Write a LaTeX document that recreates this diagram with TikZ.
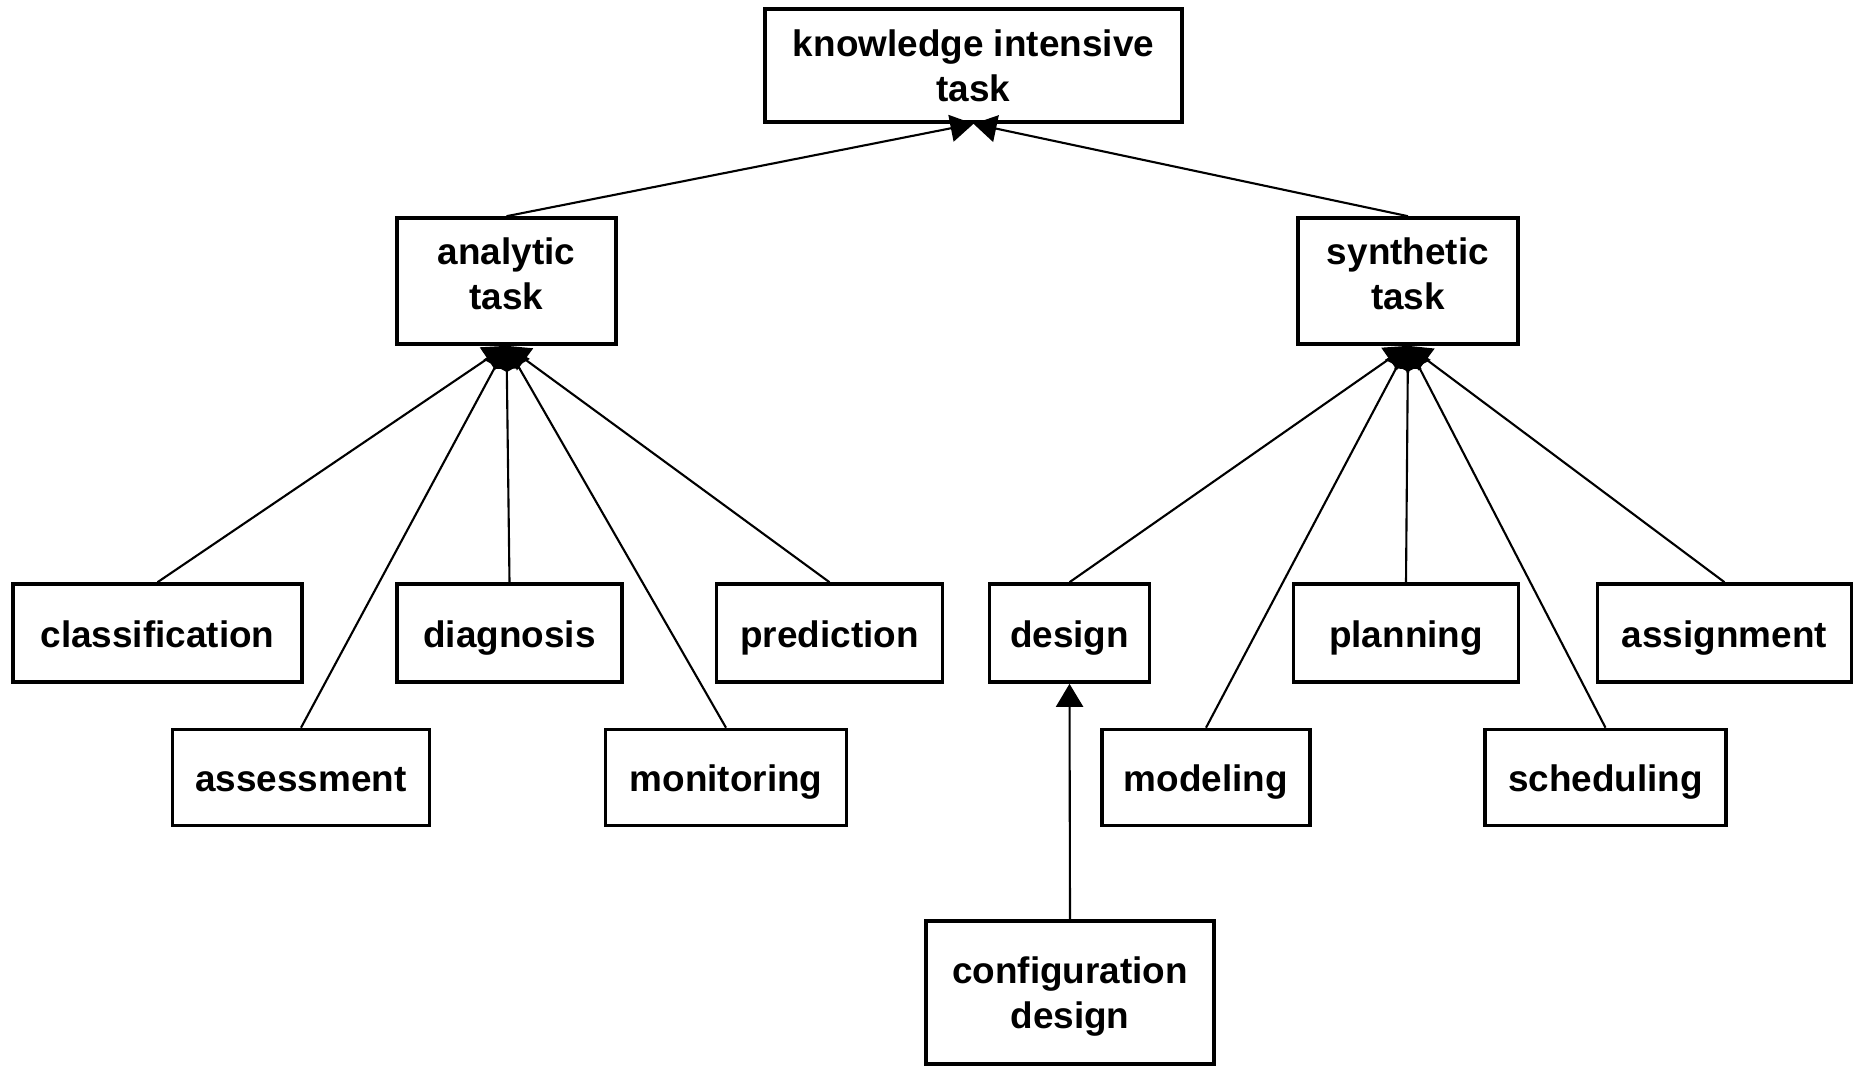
\documentclass[tikz,border=0pt]{standalone}
\usepackage{fontspec}
\setmainfont{Liberation Sans}
\usetikzlibrary{arrows.meta}

\begin{document}
\begin{tikzpicture}[
  x=0.01cm,y=-0.01cm,
  box/.style={draw,line width=1pt,inner sep=0pt,align=center,
              font=\fontsize{10.5}{12.8}\selectfont\bfseries},
  task/.style={box,minimum height=0.98cm,text height=0.9em,text depth=0.1em},
  leaf/.style={task,minimum height=0.96cm},
  isa/.style={-{Triangle[length=0.23cm,width=0.27cm]},line width=0.6pt},
]
\useasboundingbox (0,0) rectangle (1854,1066);

% top levels
\node[box,minimum width=4.17cm,minimum height=1.13cm] (kit) at (973.5,65.5) {knowledge intensive\\task};
\node[box,minimum width=2.19cm,minimum height=1.26cm,text depth=4pt] (analytic) at (506.5,281) {analytic\\task};
\node[box,minimum width=2.20cm,minimum height=1.26cm,text depth=4pt] (synthetic) at (1408,281) {synthetic\\task};

% analytic tasks
\node[task,minimum width=2.89cm] (classif) at (157.5,633) {classification};
\node[task,minimum width=2.25cm] (diagnosis) at (509.5,633) {diagnosis};
\node[task,minimum width=2.26cm] (prediction) at (829.5,633) {prediction};
\node[leaf,minimum width=2.57cm] (assess) at (301,777.5) {assessment};
\node[leaf,minimum width=2.41cm] (monitor) at (726,777.5) {monitoring};

% synthetic tasks
\node[task,minimum width=1.60cm] (design) at (1069.5,633) {design};
\node[task,minimum width=2.25cm] (planning) at (1406,633) {planning};
\node[task,minimum width=2.54cm] (assign) at (1724.5,633) {assignment};
\node[leaf,minimum width=2.08cm] (modeling) at (1206,777.5) {modeling};
\node[leaf,minimum width=2.41cm] (sched) at (1605.5,777.5) {scheduling};
\node[box,minimum width=2.88cm,minimum height=1.43cm,text depth=0pt] (config) at (1070,992.5) {configuration\\design};

\draw[isa] (analytic.north) -- (kit.south);
\draw[isa] (synthetic.north) -- (kit.south);

\foreach \t in {classif,assess,diagnosis,monitor,prediction}
  \draw[isa] (\t.north) -- (analytic.south);
\foreach \t in {design,modeling,planning,sched,assign}
  \draw[isa] (\t.north) -- (synthetic.south);

\draw[isa] (config.north) -- (design.south);
\end{tikzpicture}
\end{document}
